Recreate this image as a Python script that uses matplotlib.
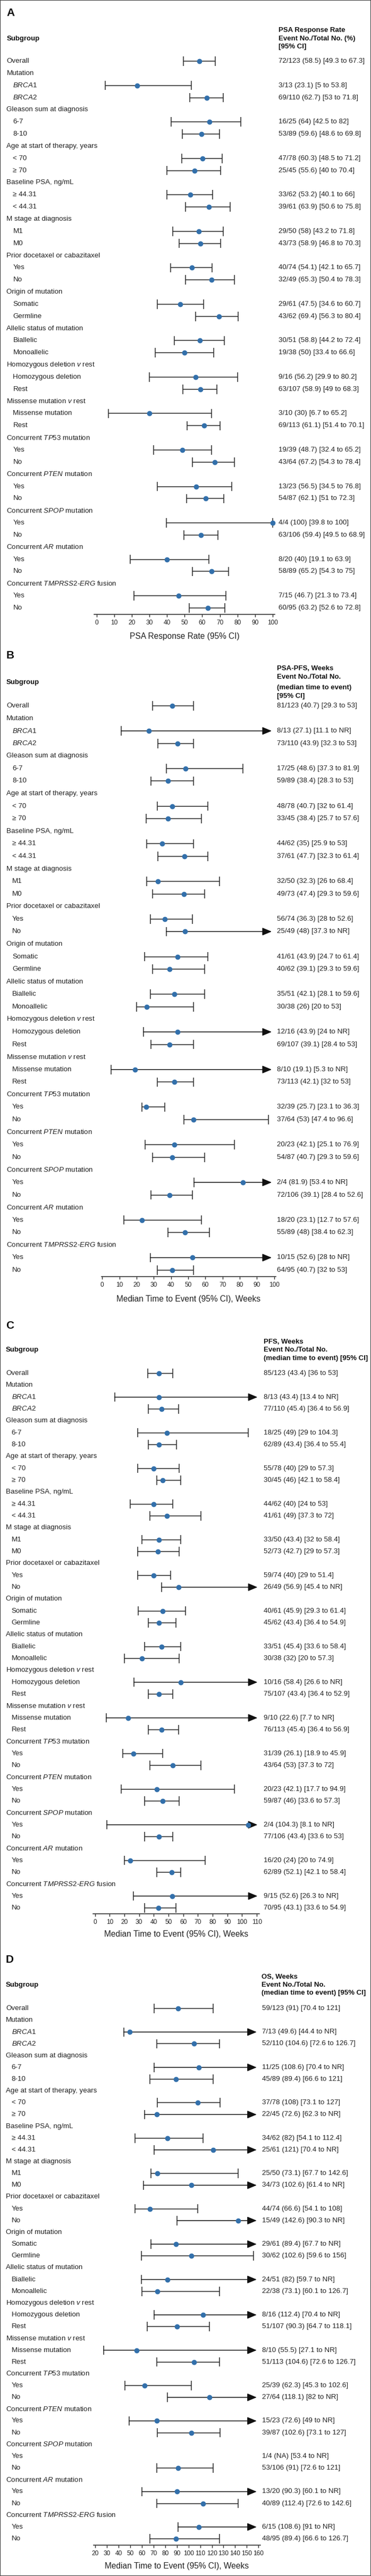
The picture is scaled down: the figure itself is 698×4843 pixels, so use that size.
import matplotlib
matplotlib.use("Agg")
import matplotlib.pyplot as plt
import matplotlib.transforms as mtransforms
from matplotlib.patches import Rectangle

W, H = 698, 4843
FONT = "Liberation Sans"
plt.rcParams["font.family"] = [FONT, "DejaVu Sans"]
plt.rcParams["mathtext.fontset"] = "custom"
plt.rcParams["mathtext.rm"] = FONT
plt.rcParams["mathtext.it"] = FONT + ":italic"
plt.rcParams["mathtext.bf"] = FONT + ":bold"

# ---------------- rows (label, indent, is_data) ----------------
rows = [
    ("Overall", 0, True),
    ("Mutation", 0, False),
    (r"$\mathit{BRCA1}$", 1, True),
    (r"$\mathit{BRCA2}$", 1, True),
    ("Gleason sum at diagnosis", 0, False),
    ("6-7", 1, True),
    ("8-10", 1, True),
    ("Age at start of therapy, years", 0, False),
    ("< 70", 1, True),
    ("≥ 70", 1, True),
    ("Baseline PSA, ng/mL", 0, False),
    ("≥ 44.31", 1, True),
    ("< 44.31", 1, True),
    ("M stage at diagnosis", 0, False),
    ("M1", 1, True),
    ("M0", 1, True),
    ("Prior docetaxel or cabazitaxel", 0, False),
    ("Yes", 1, True),
    ("No", 1, True),
    ("Origin of mutation", 0, False),
    ("Somatic", 1, True),
    ("Germline", 1, True),
    ("Allelic status of mutation", 0, False),
    ("Biallelic", 1, True),
    ("Monoallelic", 1, True),
    (r"Homozygous deletion $\mathit{v}$ rest", 0, False),
    ("Homozygous deletion", 1, True),
    ("Rest", 1, True),
    (r"Missense mutation $\mathit{v}$ rest", 0, False),
    ("Missense mutation", 1, True),
    ("Rest", 1, True),
    (r"Concurrent $\mathit{TP53}$ mutation", 0, False),
    ("Yes", 1, True),
    ("No", 1, True),
    (r"Concurrent $\mathit{PTEN}$ mutation", 0, False),
    ("Yes", 1, True),
    ("No", 1, True),
    (r"Concurrent $\mathit{SPOP}$ mutation", 0, False),
    ("Yes", 1, True),
    ("No", 1, True),
    (r"Concurrent $\mathit{AR}$ mutation", 0, False),
    ("Yes", 1, True),
    ("No", 1, True),
    (r"Concurrent $\mathit{TMPRSS2}$-$\mathit{ERG}$ fusion", 0, False),
    ("Yes", 1, True),
    ("No", 1, True),
]

# ---------------- data (None in hi = NR, None in est = NA) ----------------
# Panel A: PSA response rate (%)
A_events = [72, 3, 69, 16, 53, 47, 25, 33, 39, 29, 43, 40, 32, 29, 43, 30, 19, 9, 63, 3, 69, 19, 43, 13, 54, 4, 63, 8, 58, 7, 60]
A_totals = [123, 13, 110, 25, 89, 78, 45, 62, 61, 50, 73, 74, 49, 61, 62, 51, 38, 16, 107, 10, 113, 39, 64, 23, 87, 4, 106, 20, 89, 15, 95]
A_est = [58.5, 23.1, 62.7, 64, 59.6, 60.3, 55.6, 53.2, 63.9, 58, 58.9, 54.1, 65.3, 47.5, 69.4, 58.8, 50, 56.2, 58.9, 30, 61.1, 48.7, 67.2, 56.5, 62.1, 100, 59.4, 40, 65.2, 46.7, 63.2]
A_lo = [49.3, 5, 53, 42.5, 48.6, 48.5, 40, 40.1, 50.6, 43.2, 46.8, 42.1, 50.4, 34.6, 56.3, 44.2, 33.4, 29.9, 49, 6.7, 51.4, 32.4, 54.3, 34.5, 51, 39.8, 49.5, 19.1, 54.3, 21.3, 52.6]
A_hi = [67.3, 53.8, 71.8, 82, 69.8, 71.2, 70.4, 66, 75.8, 71.8, 70.3, 65.7, 78.3, 60.7, 80.4, 72.4, 66.6, 80.2, 68.3, 65.2, 70.1, 65.2, 78.4, 76.8, 72.3, 100, 68.9, 63.9, 75, 73.4, 72.8]

# Panel B: PSA-PFS, weeks
B_events = [81, 8, 73, 17, 59, 48, 33, 44, 37, 32, 49, 56, 25, 41, 40, 35, 30, 12, 69, 8, 73, 32, 37, 20, 54, 2, 72, 18, 55, 10, 64]
B_totals = [123, 13, 110, 25, 89, 78, 45, 62, 61, 50, 73, 74, 49, 61, 62, 51, 38, 16, 107, 10, 113, 39, 64, 23, 87, 4, 106, 20, 89, 15, 95]
B_est = [40.7, 27.1, 43.9, 48.6, 38.4, 40.7, 38.4, 35, 47.7, 32.3, 47.4, 36.3, 48, 43.9, 39.1, 42.1, 26, 43.9, 39.1, 19.1, 42.1, 25.7, 53, 42.1, 40.7, 81.9, 39.1, 23.1, 48, 52.6, 40.7]
B_lo = [29.3, 11.1, 32.3, 37.3, 28.3, 32, 25.7, 25.9, 32.3, 26, 29.3, 28, 37.3, 24.7, 29.3, 28.1, 20, 24, 28.4, 5.3, 32, 23.1, 47.4, 25.1, 29.3, 53.4, 28.4, 12.7, 38.4, 28, 32]
B_hi = [53, None, 53, 81.9, 53, 61.4, 57.6, 53, 61.4, 68.4, 59.6, 52.6, None, 61.4, 59.6, 59.6, 53, None, 53, None, 53, 36.3, 96.6, 76.9, 59.6, None, 52.6, 57.6, 62.3, None, 53]

# Panel C: PFS, weeks
C_events = [85, 8, 77, 18, 62, 55, 30, 44, 41, 33, 52, 59, 26, 40, 45, 33, 30, 10, 75, 9, 76, 31, 43, 20, 59, 2, 77, 16, 62, 9, 70]
C_totals = [123, 13, 110, 25, 89, 78, 45, 62, 61, 50, 73, 74, 49, 61, 62, 51, 38, 16, 107, 10, 113, 39, 64, 23, 87, 4, 106, 20, 89, 15, 95]
C_est = [43.4, 43.4, 45.4, 49, 43.4, 40, 46, 40, 49, 43.4, 42.7, 40, 56.9, 45.9, 43.4, 45.4, 32, 58.4, 43.4, 22.6, 45.4, 26.1, 53, 42.1, 46, 104.3, 43.4, 24, 52.1, 52.6, 43.1]
C_lo = [36, 13.4, 36.4, 29, 36.4, 29, 42.1, 24, 37.3, 32, 29, 29, 45.4, 29.3, 36.4, 33.6, 20, 26.6, 36.4, 7.7, 36.4, 18.9, 37.3, 17.7, 33.6, 8.1, 33.6, 20, 42.1, 26.3, 33.6]
C_hi = [53, None, 56.9, 104.3, 55.4, 57.3, 58.4, 53, 72, 58.4, 57.3, 51.4, None, 61.4, 54.9, 58.4, 57.3, None, 52.9, None, 56.9, 45.9, 72, 94.9, 57.3, None, 53, 74.9, 58.4, None, 54.9]

# Panel D: OS, weeks
D_events = [59, 7, 52, 11, 45, 37, 22, 34, 25, 25, 34, 44, 15, 29, 30, 24, 22, 8, 51, 8, 51, 25, 27, 15, 39, 1, 53, 13, 40, 6, 48]
D_totals = [123, 13, 110, 25, 89, 78, 45, 62, 61, 50, 73, 74, 49, 61, 62, 51, 38, 16, 107, 10, 113, 39, 64, 23, 87, 4, 106, 20, 89, 15, 95]
D_est = [91, 49.6, 104.6, 108.6, 89.4, 108, 72.6, 82, 121, 73.1, 102.6, 66.6, 142.6, 89.4, 102.6, 82, 73.1, 112.4, 90.3, 55.5, 104.6, 62.3, 118.1, 72.6, 102.6, None, 91, 90.3, 112.4, 108.6, 89.4]
D_lo = [70.4, 44.4, 72.6, 70.4, 66.6, 73.1, 62.3, 54.1, 70.4, 67.7, 61.4, 54.1, 90.3, 67.7, 59.6, 59.7, 60.1, 70.4, 64.7, 27.1, 72.6, 45.3, 82, 49, 73.1, 53.4, 72.6, 60.1, 72.6, 91, 66.6]
D_hi = [121, None, 126.7, None, 121, 127, None, 112.4, None, 142.6, None, 108, None, None, 156, None, 126.7, None, 118.1, None, 126.7, 102.6, None, None, 127, None, 121, None, 142.6, None, 126.7]

# ---------------- layout (pixels) ----------------
panels = [
    dict(letter="A", letter_y=24, sub_y=73, head_x=524, head=["PSA Response Rate", "Event No./Total No. (%)", "[95% CI]"],
         head_y=[57, 73, 88], y0=115, y_last=1143, axis_px=1155, top_px=40, L=177.2, R=517.3,
         xlim=(-1.33, 101.3), ticks=list(range(0, 101, 10)), xlabel="PSA Response Rate (95% CI)", xlabel_y=1196,
         arrow_end=100, lx0=12.5, lx1=24.5, rx=524,
         data=(A_events, A_totals, A_est, A_lo, A_hi)),
    dict(letter="B", letter_y=1232, sub_y=1283, head_x=521,
         head=["PSA-PFS, Weeks", "Event No./Total No.", "(median time to event)", "[95% CI]"],
         head_y=[1257, 1273, 1293, 1309], y0=1327, y_last=2388, axis_px=2400, top_px=1248, L=190.5, R=518.6,
         xlim=(-0.55, 100.9), ticks=list(range(0, 101, 10)), xlabel="Median Time to Event (95% CI), Weeks", xlabel_y=2442,
         arrow_end=98.6, lx0=12, lx1=23, rx=521,
         data=(B_events, B_totals, B_est, B_lo, B_hi)),
    dict(letter="C", letter_y=2492, sub_y=2538, head_x=496,
         head=["PFS, Weeks", "Event No./Total No.", "(median time to event) [95% CI]"],
         head_y=[2523, 2538, 2554], y0=2582, y_last=3587, axis_px=3598, top_px=2514, L=175.0, R=487.5,
         xlim=(-1.27, 111.6), ticks=list(range(0, 111, 10)), xlabel="Median Time to Event (95% CI), Weeks", xlabel_y=3637,
         arrow_end=110.5, lx0=11, lx1=21.5, rx=496,
         data=(C_events, C_totals, C_est, C_lo, C_hi)),
    dict(letter="D", letter_y=3685, sub_y=3732, head_x=492,
         head=["OS, Weeks", "Event No./Total No.", "(median time to event) [95% CI]"],
         head_y=[3717, 3732, 3747], y0=3776, y_last=4773, axis_px=4785, top_px=3708, L=175.9, R=489.7,
         xlim=(18.4, 161.6), ticks=list(range(20, 161, 10)), xlabel="Median Time to Event (95% CI), Weeks", xlabel_y=4824,
         arrow_end=158.5, lx0=11, lx1=21.5, rx=493,
         data=(D_events, D_totals, D_est, D_lo, D_hi)),
]

TXT = "#222222"
LINE = "#262626"
BLUE = "#3370ab"
FS = 9.6
FS_HEAD = 9.5
FS_TICK = 8.6
FS_XLAB = 11.2
FS_LETTER = 15


def fmt(v, missing):
    return missing if v is None else f"{v:g}"


fig = plt.figure(figsize=(W / 100, H / 100), dpi=100)
fig.patch.set_facecolor("white")

# pixel transform (x from left, y from top)
PX = mtransforms.Affine2D().scale(1.0 / W, -1.0 / H).translate(0, 1) + fig.transFigure

for p in panels:
    n = len(rows)
    dy = (p["y_last"] - p["y0"]) / (n - 1)
    left = p["L"] / W
    width = (p["R"] - p["L"]) / W
    bottom = (H - p["axis_px"]) / H
    height = (p["axis_px"] - p["top_px"]) / H
    ax = fig.add_axes([left, bottom, width, height])
    ax.set_facecolor("none")
    ax.set_xlim(*p["xlim"])
    ax.set_ylim((p["axis_px"] - p["y0"]) / dy, (p["top_px"] - p["y0"]) / dy)
    for s in ("top", "left", "right"):
        ax.spines[s].set_visible(False)
    ax.spines["bottom"].set_linewidth(1.1)
    ax.spines["bottom"].set_color(LINE)
    ax.set_yticks([])
    ax.set_xticks(p["ticks"])
    ax.set_xticklabels([str(t) for t in p["ticks"]], fontsize=FS_TICK, color=TXT)
    ax.tick_params(axis="x", direction="out", length=3.8, width=1.0, color=LINE, pad=3.2)

    # blended: x in figure pixels, y in axes data (row index)
    XPX_Y = mtransforms.blended_transform_factory(PX, ax.transData)

    # letter and headers
    fig.text(p["lx0"], p["letter_y"], p["letter"], transform=PX, fontsize=FS_LETTER, fontweight="bold",
             va="center", ha="left", color="#111111")
    fig.text(p["lx0"], p["sub_y"], "Subgroup", transform=PX, fontsize=FS_HEAD, fontweight="bold",
             va="center", ha="left", color="#111111")
    for line, yy in zip(p["head"], p["head_y"]):
        fig.text(p["head_x"], yy, line, transform=PX, fontsize=FS_HEAD, fontweight="bold",
                 va="center", ha="left", color="#111111")

    ev, tot, est, lo, hi = p["data"]
    cap = 8.8 / dy
    k = 0
    for i, (lab, ind, isdata) in enumerate(rows):
        x = p["lx1"] if ind else p["lx0"]
        ax.text(x, i, lab, transform=XPX_Y, fontsize=FS, va="center", ha="left", color=TXT)
        if not isdata:
            continue
        e, t, m, l, h = ev[k], tot[k], est[k], lo[k], hi[k]
        k += 1
        s = f"{e}/{t} ({fmt(m, 'NA')}) [{fmt(l, 'NR')} to {fmt(h, 'NR')}]"
        ax.text(p["rx"], i, s, transform=XPX_Y, fontsize=FS, va="center", ha="left", color=TXT)
        if m is None:
            continue
        if h is None:
            ax.annotate("", xy=(p["arrow_end"], i), xytext=(l, i),
                        arrowprops=dict(arrowstyle="-|>,head_length=0.6,head_width=0.25",
                                        color="#111111", lw=1.1, shrinkA=0, shrinkB=0,
                                        mutation_scale=18))
            ax.vlines([l], i - cap, i + cap, color=LINE, lw=1.1)
        else:
            ax.hlines(i, l, h, color=LINE, lw=1.1)
            ax.vlines([l, h], i - cap, i + cap, color=LINE, lw=1.1)
        ax.plot([m], [i], "o", color=BLUE, ms=6.0, mec=BLUE, zorder=5, clip_on=False)

    # x-axis label
    xc = (p["L"] + p["R"]) / 2
    fig.text(xc, p["xlabel_y"], p["xlabel"], transform=PX, fontsize=FS_XLAB, va="center", ha="center", color=TXT)

# outer frame
fig.add_artist(Rectangle((0, 0), 1, 1, transform=fig.transFigure, fill=False, edgecolor="#444444", lw=1.6))

fig.savefig("out.png", dpi=100, facecolor="white")
